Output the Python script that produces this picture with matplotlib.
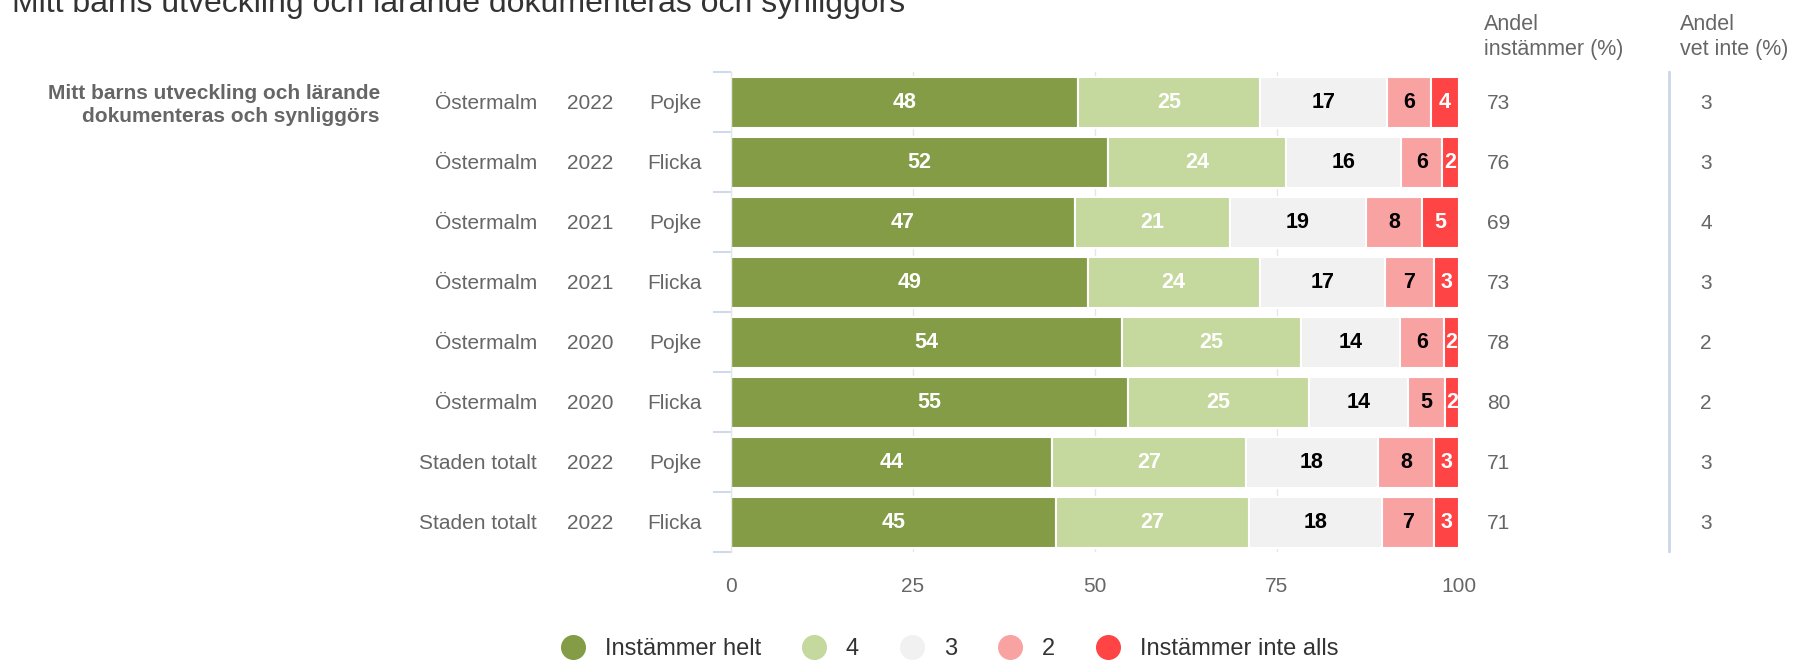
import matplotlib
matplotlib.use("Agg")
import matplotlib.pyplot as plt
import matplotlib.transforms as mtransforms
from matplotlib.lines import Line2D
import numpy as np

plt.rcParams['font.family'] = ['Liberation Sans', 'DejaVu Sans']

title = "Mitt barns utveckling och lärande dokumenteras och synliggörs"
group_label = "Mitt barns utveckling och lärande\ndokumenteras och synliggörs"
locations = ["Östermalm"] * 6 + ["Staden totalt"] * 2
years = ["2022", "2022", "2021", "2021", "2020", "2020", "2022", "2022"]
genders = ["Pojke", "Flicka", "Pojke", "Flicka", "Pojke", "Flicka", "Pojke", "Flicka"]

series_names = ["Instämmer helt", "4", "3", "2", "Instämmer inte alls"]
# bar lengths and displayed labels
helt = [47.6, 51.8, 47.2, 49.0, 53.7, 54.5, 44.1, 44.7]
s4 = [25.1, 24.4, 21.3, 23.6, 24.6, 24.9, 26.6, 26.4]
s3 = [17.4, 15.9, 18.7, 17.3, 13.6, 13.6, 18.2, 18.3]
s2 = [6.0, 5.6, 7.7, 6.6, 6.0, 5.1, 7.6, 7.2]
inte = [3.9, 2.3, 5.1, 3.5, 2.1, 1.9, 3.5, 3.4]
lab_helt = [48, 52, 47, 49, 54, 55, 44, 45]
lab_4 = [25, 24, 21, 24, 25, 25, 27, 27]
lab_3 = [17, 16, 19, 17, 14, 14, 18, 18]
lab_2 = [6, 6, 8, 7, 6, 5, 8, 7]
lab_inte = [4, 2, 5, 3, 2, 2, 3, 3]
andel_instammer = [73, 76, 69, 73, 78, 80, 71, 71]
andel_vet_inte = [3, 3, 4, 3, 2, 2, 3, 3]
x_ticks = [0, 25, 50, 75, 100]

colors = ["#839c45", "#c5d89d", "#f1f1f1", "#f9a2a2", "#fe4444"]
text_colors = ["white", "white", "black", "black", "white"]

W, H = 1808, 662
fig = plt.figure(figsize=(W / 100, H / 100), dpi=100)
ax = fig.add_axes([731 / W, 1 - 552 / H, (1459 - 731) / W, (552 - 72) / H])

n = len(locations)
y = np.arange(n)
values = [helt, s4, s3, s2, inte]
labels = [lab_helt, lab_4, lab_3, lab_2, lab_inte]
left = np.zeros(n)
for vals, labs, c, tc in zip(values, labels, colors, text_colors):
    vals = np.array(vals)
    ax.barh(y, vals, left=left, height=0.85, color=c, edgecolor="white",
            linewidth=1.5, zorder=2)
    for yi, (l, v, lab) in enumerate(zip(left, vals, labs)):
        ax.text(l + v / 2, yi, str(lab), ha="center", va="center",
                color=tc, fontsize=15.5, fontweight="bold", zorder=3)
    left = left + vals

ax.set_xlim(0, 100)
ax.set_ylim(n - 0.5, -0.5)
ax.set_xticks(x_ticks)
ax.set_xticklabels([str(t) for t in x_ticks])
ax.tick_params(axis="x", length=0, pad=18, labelsize=15, labelcolor="#666666")
ax.xaxis.grid(True, color="#e6e6e6", linewidth=1, zorder=0)
ax.set_axisbelow(True)
ax.set_yticks([])
ax.set_yticks(np.arange(-0.5, n, 1.0), minor=True)
ax.tick_params(axis="y", which="minor", length=13, width=1.3, color="#ccd6eb")
ax.tick_params(axis="y", which="major", length=0)
for s in ["top", "right", "bottom"]:
    ax.spines[s].set_visible(False)
ax.spines["left"].set_color("#e6e6e6")
ax.spines["left"].set_linewidth(1)

tr = mtransforms.blended_transform_factory(fig.transFigure, ax.transData)
for i in range(n):
    fig.text(537 / W, i + 0.03, locations[i], transform=tr, ha="right", va="center",
             fontsize=15, color="#666666")
    fig.text(590 / W, i + 0.03, years[i], transform=tr, ha="center", va="center",
             fontsize=15, color="#666666")
    fig.text(702 / W, i + 0.03, genders[i], transform=tr, ha="right", va="center",
             fontsize=15, color="#666666")
    fig.text(1487 / W, i + 0.03, str(andel_instammer[i]), transform=tr, ha="left",
             va="center", fontsize=15, color="#666666")
    fig.text(1706 / W, i + 0.03, str(andel_vet_inte[i]), transform=tr, ha="center",
             va="center", fontsize=15, color="#666666")

fig.text(380 / W, 0.05, group_label, transform=tr, ha="right", va="center",
         fontsize=15, fontweight="bold", color="#666666", linespacing=1.3)

fig.text(1484 / W, 1 - 37 / H, "Andel\ninstämmer (%)", ha="left", va="center",
         fontsize=15.5, color="#666666", linespacing=1.3)
fig.text(1680 / W, 1 - 37 / H, "Andel\nvet inte (%)", ha="left", va="center",
         fontsize=15.5, color="#666666", linespacing=1.3)

# separator line for the "vet inte" column
fig.add_artist(Line2D([1669 / W, 1669 / W], [1 - 72 / H, 1 - 551 / H],
                      color="#ccd6eb", linewidth=2, transform=fig.transFigure))

fig.text(12 / W, 1 - 4 / H, title, ha="left", va="center", fontsize=23,
         color="#333333")

handles = [Line2D([], [], marker="o", linestyle="none", markersize=17,
                  markerfacecolor=c, markeredgecolor=c) for c in colors]
fig.legend(handles, series_names, loc="center", bbox_to_anchor=(944 / W, 1 - 649 / H),
           ncol=5, frameon=False, fontsize=17, handletextpad=0.35,
           columnspacing=1.25, labelcolor="#333333")

fig.savefig("out.png", dpi=100, facecolor="white")
